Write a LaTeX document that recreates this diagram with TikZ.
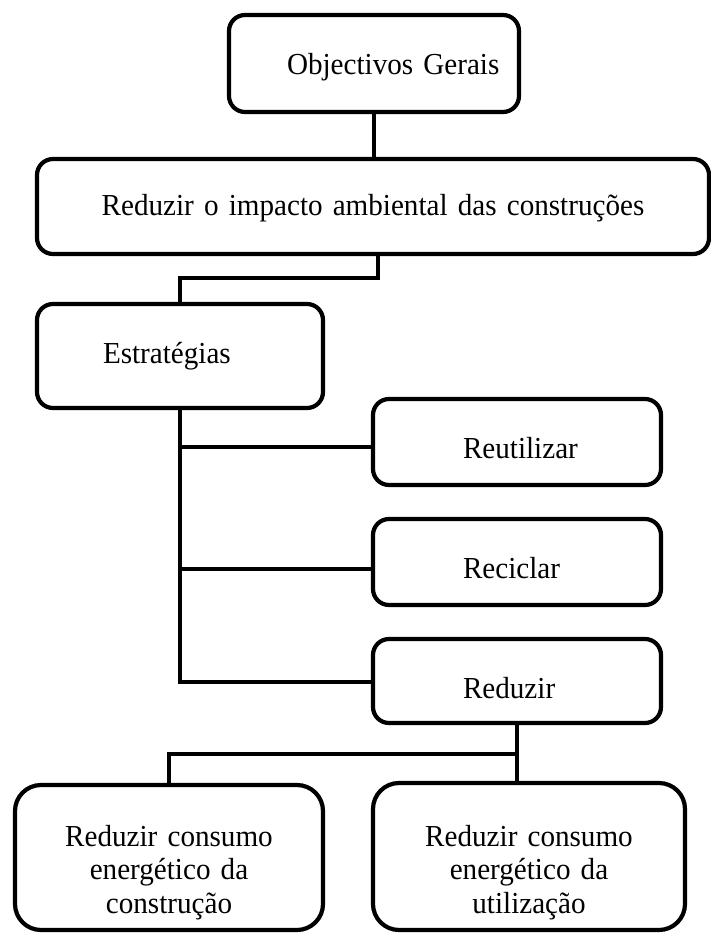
\documentclass[tikz,border=0pt]{standalone}
\usepackage{fontspec}
\setmainfont{Liberation Serif}[FakeStretch=0.955]
% node text font with slightly tighter word spacing
\newcommand\boxfont{\fontsize{30.5}{33.5}\selectfont\spaceskip 5.5pt\relax}
\begin{document}
\begin{tikzpicture}[x=1pt,y=-1pt,
  every node/.style={font=\boxfont},
  box/.style={draw, line width=4.2pt, rounded corners=16pt, inner sep=0pt,
    outer sep=0pt, anchor=north west},
  bigbox/.style={box, rounded corners=26pt, align=center},
  conn/.style={draw, line width=4.2pt}]
\useasboundingbox (0,0) rectangle (711,933);

% boxes: text width = box width, text height/depth = distance from top/bottom to baseline
\node[box, align=left, text width=290pt, text height=60pt, text depth=37pt]
  (obj) at (229,15) {\hspace*{58pt}Objectivos Gerais};
\node[box, align=center, text width=672pt, text height=57pt, text depth=38pt]
  (red) at (37,159) {Reduzir o impacto ambiental das construções};
\node[box, align=left, text width=286pt, text height=59pt, text depth=45pt]
  (estr) at (37,304) {\hspace*{66pt}Estratégias};
\node[box, align=left, text width=288pt, text height=59pt, text depth=27pt]
  (reut) at (373,399) {\hspace*{90pt}Reutilizar};
\node[box, align=left, text width=288pt, text height=59pt, text depth=27pt]
  (recic) at (373,519) {\hspace*{90pt}Reciclar};
\node[box, align=left, text width=288pt, text height=59pt, text depth=25pt]
  (reduz) at (373,639) {\hspace*{90pt}Reduzir};
\node[bigbox, text width=308pt, text height=61pt, text depth=84pt]
  (lbox) at (15,785) {Reduzir consumo\\energético da\\construção};
\node[bigbox, text width=312pt, text height=63pt, text depth=84pt]
  (rbox) at (373,783) {Reduzir consumo\\energético da\\utilização};

% connectors
\draw[conn] (obj.south) -- (obj.south |- red.north);
\coordinate (j1) at (378,278);
\draw[conn] (j1 |- red.south) -- (j1) -| (estr.north);
\draw[conn] (estr.south) |- ([yshift=-1pt]reduz.west);
\path ([yshift=-5pt]reut.west) coordinate (t1);
\path ([yshift=-7pt]recic.west) coordinate (t2);
\draw[conn] (t1 -| estr.south) -- (t1);
\draw[conn] (t2 -| estr.south) -- (t2);
\coordinate (bj) at (517,754);
\draw[conn] (reduz.south) -- (reduz.south |- rbox.north);
\draw[conn] (bj) -| (lbox.north);
\end{tikzpicture}
\end{document}
